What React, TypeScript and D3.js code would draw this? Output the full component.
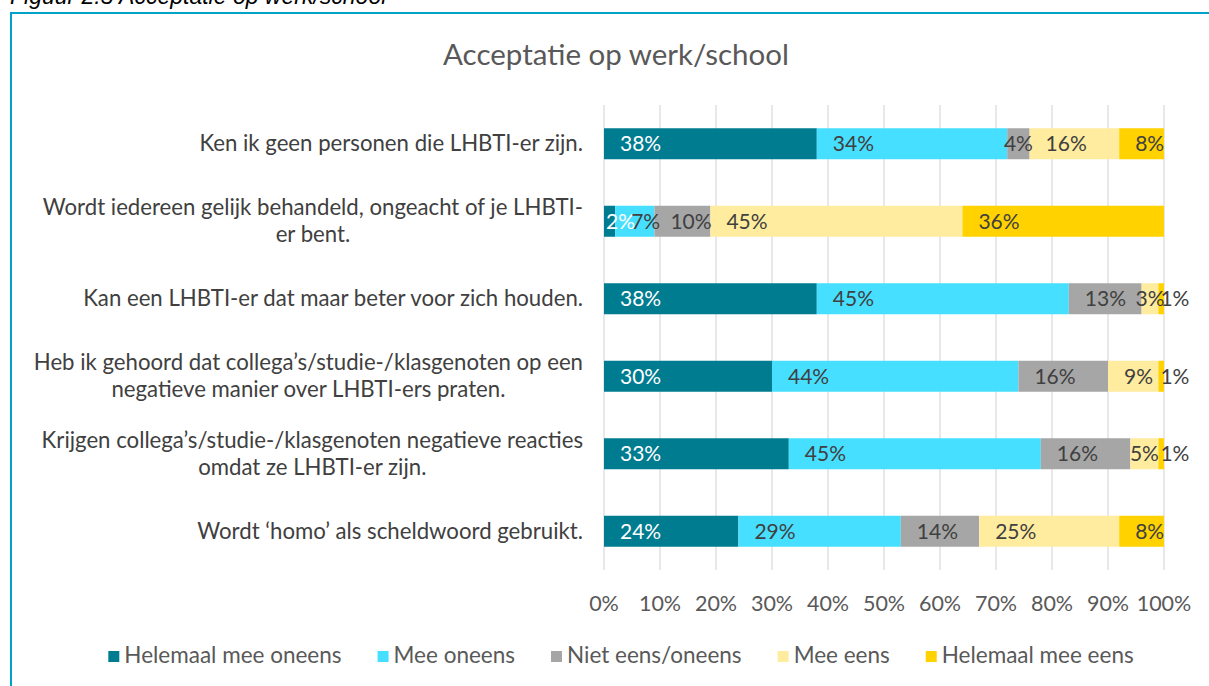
import React, { useEffect, useRef } from "react";
import * as d3 from "d3";

const categories = [
  "Ken ik geen personen die LHBTI-er zijn.",
  "Wordt iedereen gelijk behandeld, ongeacht of je LHBTI-\ner bent.",
  "Kan een LHBTI-er dat maar beter voor zich houden.",
  "Heb ik gehoord dat collega’s/studie-/klasgenoten op een\nnegatieve manier over LHBTI-ers praten.",
  "Krijgen collega’s/studie-/klasgenoten negatieve reacties\nomdat ze LHBTI-er zijn.",
  "Wordt ‘homo’ als scheldwoord gebruikt.",
];

const seriesNames = [
  "Helemaal mee oneens",
  "Mee oneens",
  "Niet eens/oneens",
  "Mee eens",
  "Helemaal mee eens",
];

const helemaalMeeOneens = [38, 2, 38, 30, 33, 24];
const meeOneens = [34, 7, 45, 44, 45, 29];
const nietEensOneens = [4, 10, 13, 16, 16, 14];
const meeEens = [16, 45, 3, 9, 5, 25];
const helemaalMeeEens = [8, 36, 1, 1, 1, 8];

const tickValues = [0, 10, 20, 30, 40, 50, 60, 70, 80, 90, 100];

const colors = ["#007C91", "#47DFFF", "#A6A6A6", "#FFEC9E", "#FFD200"];
const labelColors = ["#FFFFFF", "#404040", "#404040", "#404040", "#404040"];

const chartTitle = "Acceptatie op werk/school";
const caption = "Figuur 2.5 Acceptatie op werk/school";

const FONT = "Lato, 'Noto Sans', sans-serif";

export default function App() {
  const ref = useRef<SVGSVGElement | null>(null);

  useEffect(() => {
    const svg = d3.select(ref.current);
    svg.selectAll("*").remove();

    const W = 1209;
    const H = 686;

    // frame
    svg
      .append("path")
      .attr("d", `M11,${H + 5} L11,13 L${W + 5},13`)
      .attr("fill", "none")
      .attr("stroke", "#00A3C8")
      .attr("stroke-width", 2);

    // caption (cut off at the top)
    svg
      .append("text")
      .attr("x", 10)
      .attr("y", 4)
      .attr("font-family", "'Liberation Sans', Arial, sans-serif")
      .attr("font-style", "italic")
      .attr("font-size", 23)
      .attr("fill", "#000")
      .text(caption);

    // title
    svg
      .append("text")
      .attr("x", 616)
      .attr("y", 65)
      .attr("text-anchor", "middle")
      .attr("font-family", FONT)
      .attr("font-size", 29.5)
      .attr("fill", "#595959")
      .text(chartTitle);

    const x = d3.scaleLinear().domain([0, 100]).range([604, 1164]);
    const y = d3
      .scaleBand<string>()
      .domain(categories)
      .range([105, 570])
      .paddingInner(0.6)
      .paddingOuter(0.3);

    // gridlines
    svg
      .append("g")
      .selectAll("line")
      .data(tickValues)
      .join("line")
      .attr("x1", (d) => x(d))
      .attr("x2", (d) => x(d))
      .attr("y1", 105)
      .attr("y2", 570)
      .attr("stroke", "#D9D9D9")
      .attr("stroke-width", 1.2);

    // tick labels
    svg
      .append("g")
      .selectAll("text")
      .data(tickValues)
      .join("text")
      .attr("x", (d) => x(d))
      .attr("y", 611)
      .attr("text-anchor", "middle")
      .attr("font-family", FONT)
      .attr("font-size", 21.5)
      .attr("fill", "#595959")
      .text((d) => `${d}%`);

    const seriesArrays = [
      helemaalMeeOneens,
      meeOneens,
      nietEensOneens,
      meeEens,
      helemaalMeeEens,
    ];
    const rows = categories.map((c, i) => {
      const r: any = { cat: c };
      seriesNames.forEach((s, j) => (r[s] = seriesArrays[j][i]));
      return r;
    });
    const stacked = d3.stack<any>().keys(seriesNames)(rows);

    const bars = svg.append("g");
    stacked.forEach((layer, j) => {
      bars
        .append("g")
        .selectAll("rect")
        .data(layer)
        .join("rect")
        .attr("x", (d) => x(d[0]))
        .attr("width", (d) => x(d[1]) - x(d[0]))
        .attr("y", (d) => y(d.data.cat)!)
        .attr("height", y.bandwidth())
        .attr("fill", colors[j]);
    });

    // data labels
    const labels = svg.append("g");
    stacked.forEach((layer, j) => {
      layer.forEach((d) => {
        const v = d[1] - d[0];
        const x0 = x(d[0]);
        const w = x(d[1]) - x0;
        const t = labels
          .append("text")
          .attr("y", y(d.data.cat)! + y.bandwidth() / 2 + 7.5)
          .attr("font-family", FONT)
          .attr("font-size", 21)
          .attr("fill", labelColors[j])
          .text(`${v}%`);
        const tw = (t.node() as SVGTextElement).getComputedTextLength();
        let xs;
        if (w >= tw + 10) xs = x0 + 16;
        else if (w >= 12) xs = x0 + (w - tw) / 2;
        else xs = x0 + 2;
        t.attr("x", xs);
      });
    });

    // category labels
    const CAT_FS = 22.2;
    const catG = svg.append("g");
    categories.forEach((c) => {
      const lines = c.split("\n");
      const cy = y(c)! + y.bandwidth() / 2;
      const lh = 27;
      const t = catG
        .append("text")
        .attr("font-family", FONT)
        .attr("font-size", CAT_FS)
        .attr("fill", "#404040");
      if (lines.length === 1) {
        t.attr("x", 583).attr("y", cy + 7.5).attr("text-anchor", "end").text(c);
      } else {
        const tmp = catG
          .append("text")
          .attr("font-family", FONT)
          .attr("font-size", CAT_FS)
          .text(lines[0]);
        const w0 = (tmp.node() as SVGTextElement).getComputedTextLength();
        tmp.remove();
        const center = 583 - w0 / 2;
        const top = cy - ((lines.length - 1) * lh) / 2 + 7.5;
        lines.forEach((ln, k) => {
          t.append("tspan")
            .attr("x", center)
            .attr("y", top + k * lh)
            .attr("text-anchor", "middle")
            .text(ln);
        });
      }
    });

    // legend
    const leg = svg.append("g");
    const items = seriesNames.map((s, j) => {
      const g = leg.append("g");
      g.append("rect")
        .attr("x", 0)
        .attr("y", -12)
        .attr("width", 11)
        .attr("height", 11)
        .attr("fill", colors[j]);
      const t = g
        .append("text")
        .attr("x", 16)
        .attr("y", 0)
        .attr("font-family", FONT)
        .attr("font-size", 22.5)
        .attr("fill", "#595959")
        .text(s);
      const tw = (t.node() as SVGTextElement).getComputedTextLength();
      return { g, w: 16 + tw };
    });
    const gap = 36;
    const total = items.reduce((a, b) => a + b.w, 0) + gap * (items.length - 1);
    let cx = 621 - total / 2;
    items.forEach((it) => {
      it.g.attr("transform", `translate(${cx},663)`);
      cx += it.w + gap;
    });
  }, []);

  return (
    <svg
      ref={ref}
      width={1209}
      height={686}
      style={{ position: "absolute", left: 0, top: 0, background: "#fff" }}
    />
  );
}
